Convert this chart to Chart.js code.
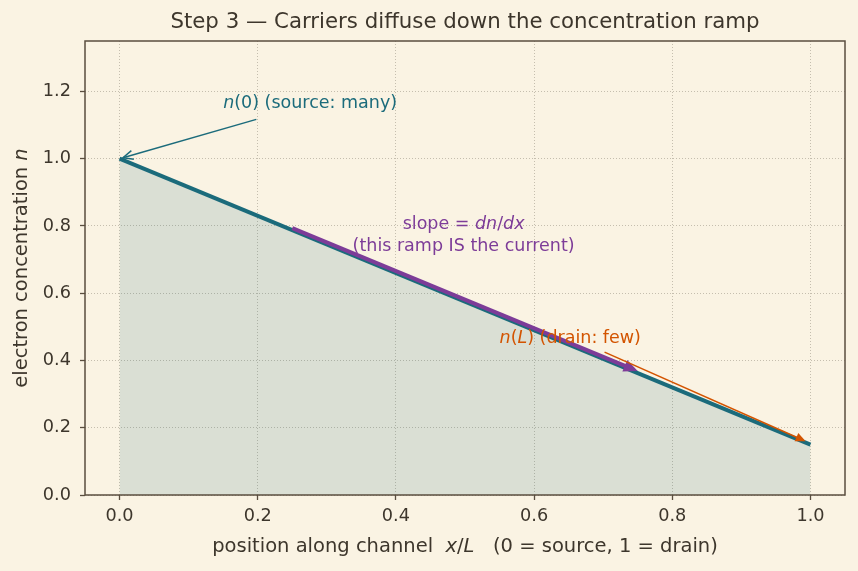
<!DOCTYPE html>
<html>
<head>
<meta charset="utf-8">
<script src="https://cdn.jsdelivr.net/npm/chart.js@4"></script>
<style>
  html, body { margin: 0; background: #faf3e3; }
  #c { display: block; }
</style>
</head>
<body>
<canvas id="c" width="858" height="571"></canvas>
<script>
// ramp data
const xPos = [0, 1];
const nVals = [1.0, 0.15];
const xTicks = [0, 0.2, 0.4, 0.6, 0.8, 1.0];
const yTicks = [0, 0.2, 0.4, 0.6, 0.8, 1.0, 1.2];

// annotation anchors (data coords)
const slopeFrom = [0.25, 0.7875];
const slopeTo = [0.75, 0.3625];
const srcTail = [0.198, 1.117];
const srcHead = [0.005, 1.003];
const drnTail = [0.702, 0.425];
const drnHead = [0.993, 0.16];
const srcText = [0.15, 1.164];
const slopeText1 = [0.498, 0.805];
const slopeText2 = [0.498, 0.74];
const drnText = [0.55, 0.466];

const INK = '#3d362c';
const FRAME = '#5a4e3f';
const TEAL = '#1b6b7b';
const PURPLE = '#7d3c98';
const ORANGE = '#d35400';
const FONT = "'DejaVu Sans', sans-serif";

function drawRich(ctx, parts, x, y, size, color, align) {
  ctx.save();
  ctx.fillStyle = color;
  ctx.textBaseline = 'middle';
  ctx.textAlign = 'left';
  let w = 0;
  parts.forEach((p) => {
    ctx.font = (p.i ? 'italic ' : '') + size + 'px ' + FONT;
    w += ctx.measureText(p.t).width;
  });
  let cx = align === 'center' ? x - w / 2 : x;
  parts.forEach((p) => {
    ctx.font = (p.i ? 'italic ' : '') + size + 'px ' + FONT;
    ctx.fillText(p.t, cx, y);
    cx += ctx.measureText(p.t).width;
  });
  ctx.restore();
  return w;
}

function arrow(ctx, x1, y1, x2, y2, color, width, head, filled) {
  const a = Math.atan2(y2 - y1, x2 - x1);
  ctx.save();
  ctx.strokeStyle = color;
  ctx.fillStyle = color;
  ctx.lineWidth = width;
  ctx.lineCap = 'butt';
  ctx.beginPath();
  ctx.moveTo(x1, y1);
  ctx.lineTo(filled ? x2 - Math.cos(a) * head * 0.8 : x2, filled ? y2 - Math.sin(a) * head * 0.8 : y2);
  ctx.stroke();
  const hw = head * 0.45;
  const bx = x2 - Math.cos(a) * head, by = y2 - Math.sin(a) * head;
  const px = -Math.sin(a) * hw, py = Math.cos(a) * hw;
  ctx.beginPath();
  ctx.moveTo(bx + px, by + py);
  ctx.lineTo(x2, y2);
  ctx.lineTo(bx - px, by - py);
  if (filled) {
    ctx.closePath();
    ctx.fill();
  } else {
    ctx.stroke();
  }
  ctx.restore();
}

const decor = {
  id: 'decor',
  beforeDraw(chart) {
    const ctx = chart.ctx;
    ctx.save();
    ctx.fillStyle = '#faf3e3';
    ctx.fillRect(0, 0, chart.width, chart.height);
    ctx.restore();
  },
  afterDatasetsDraw(chart) {
    const ctx = chart.ctx;
    const xs = chart.scales.x, ys = chart.scales.y;
    const P = (v) => [xs.getPixelForValue(v[0]), ys.getPixelForValue(v[1])];

    let a = P(slopeFrom), b = P(slopeTo);
    arrow(ctx, a[0], a[1] - 2, b[0], b[1] - 2, PURPLE, 4, 14, true);
    a = P(srcTail); b = P(srcHead);
    arrow(ctx, a[0], a[1], b[0], b[1], TEAL, 1.5, 10, false);
    a = P(drnTail); b = P(drnHead);
    arrow(ctx, a[0], a[1], b[0], b[1], ORANGE, 1.5, 10, true);

    let t = P(srcText);
    drawRich(ctx, [{ t: 'n', i: true }, { t: '(0) (source: many)' }], t[0], t[1], 17.5, TEAL, 'left');
    t = P(slopeText1);
    drawRich(ctx, [{ t: 'slope = ' }, { t: 'dn', i: true }, { t: '/' }, { t: 'dx', i: true }], t[0], t[1], 17.5, PURPLE, 'center');
    t = P(slopeText2);
    drawRich(ctx, [{ t: '(this ramp IS the current)' }], t[0], t[1], 17.5, PURPLE, 'center');
    t = P(drnText);
    drawRich(ctx, [{ t: 'n', i: true }, { t: '(' }, { t: 'L', i: true }, { t: ') (drain: few)' }], t[0], t[1], 17.5, ORANGE, 'left');
  },
  afterDraw(chart) {
    const ctx = chart.ctx;
    const ca = chart.chartArea;
    ctx.save();
    ctx.strokeStyle = FRAME;
    ctx.lineWidth = 1.5;
    ctx.strokeRect(ca.left, ca.top, ca.right - ca.left, ca.bottom - ca.top);

    const cx = (ca.left + ca.right) / 2;
    const cy = (ca.top + ca.bottom) / 2;
    ctx.restore();

    drawRich(ctx, [{ t: 'Step 3 \u2014 Carriers diffuse down the concentration ramp' }], cx, 22, 21.3, INK, 'center');
    drawRich(ctx, [{ t: 'position along channel  ' }, { t: 'x', i: true }, { t: '/' }, { t: 'L', i: true }, { t: '   (0 = source, 1 = drain)' }], cx, 547, 19.5, INK, 'center');

    ctx.save();
    ctx.translate(22, cy);
    ctx.rotate(-Math.PI / 2);
    drawRich(ctx, [{ t: 'electron concentration ' }, { t: 'n', i: true }], 0, 0, 19.5, INK, 'center');
    ctx.restore();
  }
};

const gridOpts = {
  color: 'rgba(140, 130, 115, 0.6)',
  lineWidth: 0.8,
  drawTicks: true,
  tickLength: 5,
  tickColor: FRAME,
  tickWidth: 1.3
};

new Chart(document.getElementById('c').getContext('2d'), {
  type: 'line',
  data: {
    datasets: [
      {
        data: xPos.map((x, i) => ({ x, y: nVals[i] })),
        borderColor: TEAL,
        borderWidth: 4,
        backgroundColor: 'rgba(27, 107, 123, 0.14)',
        fill: 'origin',
        pointRadius: 0,
        tension: 0
      }
    ]
  },
  plugins: [decor],
  options: {
    responsive: false,
    animation: false,
    devicePixelRatio: 1,
    layout: { padding: { top: 41, right: 13, left: 0, bottom: 0 } },
    plugins: { legend: { display: false }, tooltip: { enabled: false }, title: { display: false } },
    scales: {
      x: {
        type: 'linear',
        min: -0.05,
        max: 1.05,
        grid: gridOpts,
        border: { display: false, dash: [1, 2] },
        afterBuildTicks: (s) => { s.ticks = xTicks.map((v) => ({ value: v })); },
        afterFit: (s) => { s.height = 76; },
        ticks: {
          color: INK,
          font: { family: FONT, size: 17.7 },
          padding: 6,
          maxRotation: 0,
          callback: (v) => Number(v).toFixed(1)
        }
      },
      y: {
        type: 'linear',
        min: 0,
        max: 1.35,
        grid: gridOpts,
        border: { display: false, dash: [1, 2] },
        afterBuildTicks: (s) => { s.ticks = yTicks.map((v) => ({ value: v })); },
        afterFit: (s) => { s.width = 85; },
        ticks: {
          color: INK,
          font: { family: FONT, size: 17.7 },
          padding: 9,
          callback: (v) => Number(v).toFixed(1)
        }
      }
    }
  }
});
</script>
</body>
</html>
